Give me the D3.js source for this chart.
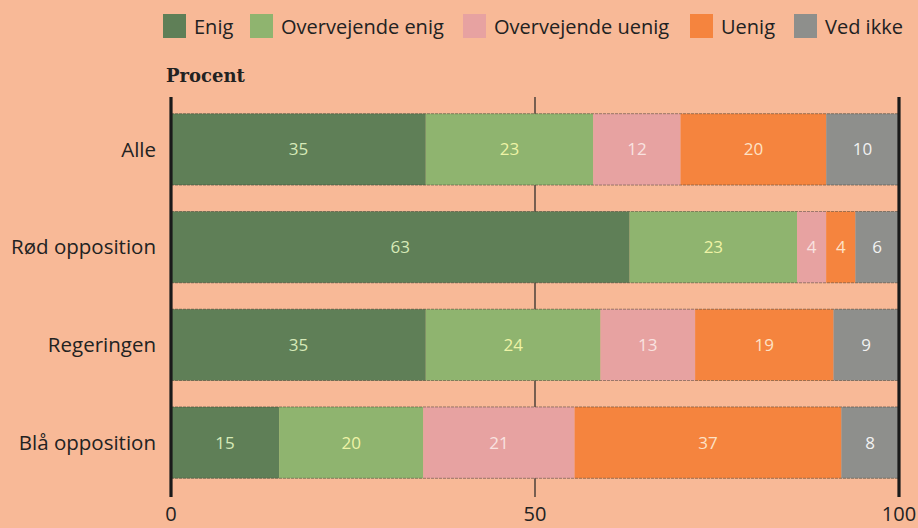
<!DOCTYPE html>
<html>
<head>
<meta charset="utf-8">
<script src="https://d3js.org/d3.v7.min.js"></script>
<style>
  body { margin: 0; background: #f8b997; }
  svg { display: block; }
</style>
</head>
<body>
<script>
// Data
const groups = ["Alle", "Rød opposition", "Regeringen", "Blå opposition"];
const answers = ["Enig", "Overvejende enig", "Overvejende uenig", "Uenig", "Ved ikke"];
const enig = [35, 63, 35, 15];
const overvejendeEnig = [23, 23, 24, 20];
const overvejendeUenig = [12, 4, 13, 21];
const uenig = [20, 4, 19, 37];
const vedIkke = [10, 6, 9, 8];
const tickValues = [0, 50, 100];

const colors = ["#5f7f57", "#8fb46f", "#e7a2a1", "#f5843e", "#8e8f8c"];
const labelColors = ["#d6eab8", "#eef3a6", "#f9e2e0", "#fde2c6", "#f2f2f2"];

const width = 918, height = 528;

const rows = groups.map((g, i) => {
  const vals = [enig[i], overvejendeEnig[i], overvejendeUenig[i], uenig[i], vedIkke[i]];
  const row = { group: g };
  answers.forEach((a, j) => row[a] = vals[j]);
  return row;
});

const svg = d3.select("body").append("svg")
  .attr("width", width)
  .attr("height", height)
  .style("font-family", "'Open Sans', sans-serif");

svg.append("rect").attr("width", width).attr("height", height).attr("fill", "#f8b997");

// Scales
const x = d3.scaleLinear().domain([0, 100]).range([171, 899]);
const y = d3.scaleBand().domain(groups).range([100.5, 491.5])
  .paddingInner(0.27).paddingOuter(0.135);

// Stack, each row as share of its total
const stack = d3.stack().keys(answers).offset(d3.stackOffsetExpand);
const series = stack(rows);

// 50 line
svg.append("line")
  .attr("x1", x(50)).attr("x2", x(50))
  .attr("y1", 97).attr("y2", 497)
  .attr("stroke", "#222").attr("stroke-width", 1.2);

// Bars
series.forEach((s, si) => {
  const g = svg.append("g");
  g.selectAll("rect")
    .data(s)
    .join("rect")
    .attr("x", d => x(d[0] * 100))
    .attr("y", d => y(d.data.group))
    .attr("width", d => x(d[1] * 100) - x(d[0] * 100))
    .attr("height", y.bandwidth())
    .attr("fill", colors[si]);

  g.selectAll("text")
    .data(s)
    .join("text")
    .attr("x", d => (x(d[0] * 100) + x(d[1] * 100)) / 2)
    .attr("y", d => y(d.data.group) + y.bandwidth() / 2)
    .attr("dy", "0.35em")
    .attr("text-anchor", "middle")
    .attr("fill", labelColors[si])
    .style("font-size", "17px")
    .text(d => d.data[s.key]);
});

// thin dark edges on bars (print look)
svg.append("g").selectAll("line")
  .data(groups.flatMap(g => [y(g), y(g) + y.bandwidth()]))
  .join("line")
  .attr("x1", x(0)).attr("x2", x(100))
  .attr("y1", d => d).attr("y2", d => d)
  .attr("stroke", "#3a3a30").attr("stroke-width", 0.8)
  .attr("stroke-dasharray", "3,1").attr("opacity", 0.6);

// Frame lines at 0 and 100
[0, 100].forEach(v => {
  svg.append("line")
    .attr("x1", x(v)).attr("x2", x(v))
    .attr("y1", 97).attr("y2", 497)
    .attr("stroke", "#1a1a1a").attr("stroke-width", 3.2);
});

// Tick labels
svg.append("g").selectAll("text")
  .data(tickValues)
  .join("text")
  .attr("x", d => x(d))
  .attr("y", 521)
  .attr("text-anchor", "middle")
  .attr("fill", "#222")
  .style("font-size", "20px")
  .text(d => d);

// Category labels
svg.append("g").selectAll("text")
  .data(groups)
  .join("text")
  .attr("x", 156)
  .attr("y", d => y(d) + y.bandwidth() / 2)
  .attr("dy", "0.35em")
  .attr("text-anchor", "end")
  .attr("fill", "#222")
  .style("font-size", "20.5px")
  .text(d => d);

// Unit title
svg.append("text")
  .attr("x", 166).attr("y", 82)
  .attr("fill", "#222")
  .style("font-family", "'DejaVu Serif', serif")
  .style("font-weight", "bold")
  .style("font-size", "18px")
  .text("Procent");

// Legend
const legendX = [163, 250, 463, 690, 794];
const legend = svg.append("g");
answers.forEach((a, i) => {
  legend.append("rect")
    .attr("x", legendX[i]).attr("y", 14)
    .attr("width", 23).attr("height", 24)
    .attr("fill", colors[i]);
  legend.append("text")
    .attr("x", legendX[i] + 31).attr("y", 34)
    .attr("fill", "#222")
    .style("font-size", "20px")
    .text(a);
});
</script>
</body>
</html>
